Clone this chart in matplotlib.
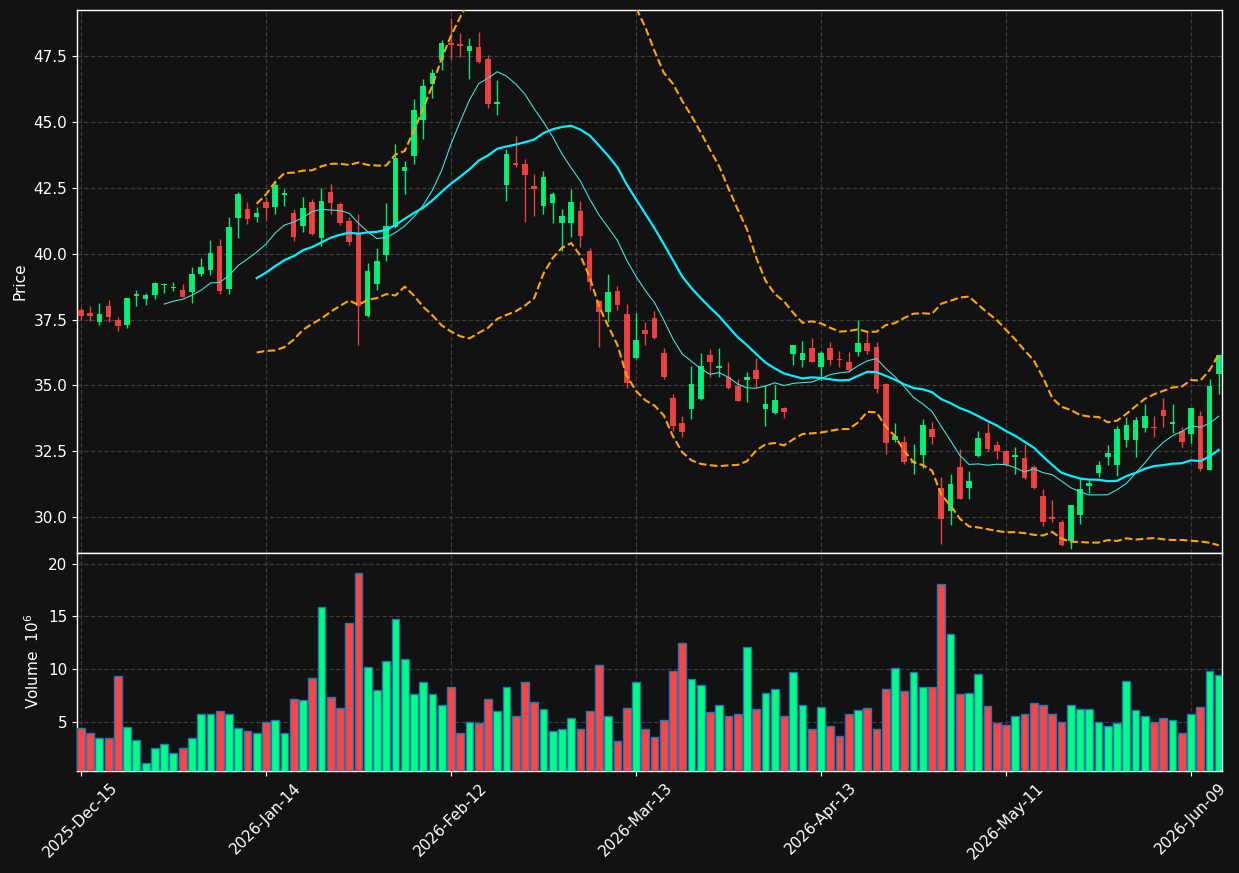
import numpy as np
import pandas as pd
import matplotlib
matplotlib.use("Agg")
import matplotlib.pyplot as plt

# ---------------- data ----------------
opens = [37.85, 37.77, 37.42, 38.03, 37.50, 37.31, 38.41, 38.30, 38.42, 38.80,
         38.71, 38.64, 38.54, 39.22, 39.40, 40.31, 38.65, 41.35, 41.68, 41.39,
         41.98, 41.78, 42.22, 41.54, 41.06, 41.95, 40.60, 42.33, 41.89, 41.25,
         40.76, 37.64, 38.85, 39.94, 41.02, 43.15, 43.71, 45.07, 46.44, 47.35,
         48.00, 47.96, 47.70, 47.84, 47.39, 45.69, 42.61, 43.44, 43.40, 42.56,
         41.82, 41.93, 41.17, 41.16, 41.61, 40.09, 38.19, 37.79, 38.57, 37.70,
         36.04, 37.09, 37.58, 36.25, 34.54, 33.56, 34.09, 34.47, 36.14, 35.67,
         35.33, 34.99, 35.20, 35.58, 34.09, 33.94, 34.16, 36.21, 35.95, 36.44,
         35.72, 36.42, 36.02, 35.90, 36.26, 36.63, 36.47, 35.06, 32.93, 32.87,
         32.06, 32.37, 33.36, 31.12, 30.22, 31.92, 31.09, 32.31, 33.21, 32.75,
         32.52, 32.28, 32.26, 31.89, 30.81, 30.00, 29.82, 29.11, 30.09, 31.20,
         31.69, 32.30, 31.98, 32.93, 32.93, 33.38, 33.42, 34.07, 33.55, 33.28,
         33.16, 33.86, 31.80, 35.45]
highs = [37.94, 38.02, 38.14, 38.26, 37.61, 38.33, 38.64, 38.50, 38.94, 38.90,
         38.94, 38.85, 39.50, 39.84, 40.53, 40.56, 41.41, 42.36, 41.97, 41.77,
         42.17, 42.77, 42.47, 41.71, 42.16, 42.09, 42.50, 42.63, 41.97, 41.40,
         41.52, 39.66, 40.22, 41.94, 44.15, 43.51, 45.87, 46.64, 47.01, 48.11,
         48.95, 48.36, 48.17, 48.40, 47.54, 46.61, 43.97, 44.47, 43.61, 43.01,
         43.13, 42.35, 41.71, 42.44, 42.02, 40.22, 38.26, 39.25, 38.76, 38.08,
         37.75, 37.40, 37.84, 36.43, 34.66, 33.86, 35.75, 36.24, 36.38, 36.43,
         35.91, 35.25, 35.51, 36.06, 35.00, 35.01, 34.17, 36.53, 36.67, 36.79,
         36.29, 36.65, 36.32, 36.28, 37.49, 37.02, 36.65, 35.08, 33.58, 33.08,
         32.78, 33.73, 33.61, 31.54, 31.65, 32.59, 31.75, 33.27, 33.60, 32.90,
         32.54, 32.65, 32.78, 31.98, 31.06, 30.64, 29.91, 30.47, 31.48, 31.43,
         32.13, 32.74, 33.47, 33.81, 33.81, 34.29, 33.86, 34.53, 34.29, 33.43,
         34.16, 34.03, 35.23, 36.21]
lows = [37.50, 37.45, 37.30, 37.40, 37.06, 37.18, 38.01, 38.06, 38.27, 38.50,
        38.60, 38.35, 38.12, 39.17, 39.21, 38.47, 38.47, 40.60, 41.12, 41.21,
        41.28, 41.52, 41.83, 40.49, 40.83, 40.70, 40.30, 41.52, 41.09, 40.32,
        36.52, 37.60, 38.61, 39.73, 40.98, 42.25, 43.42, 44.37, 45.93, 46.99,
        47.41, 47.47, 46.65, 47.25, 45.55, 45.25, 42.02, 43.30, 41.22, 41.45,
        41.52, 41.18, 40.09, 40.64, 40.26, 38.64, 36.46, 37.41, 37.88, 34.90,
        36.00, 36.55, 36.78, 35.25, 33.26, 33.04, 33.73, 34.45, 35.34, 35.34,
        34.85, 34.40, 34.39, 34.92, 33.48, 33.92, 33.77, 35.78, 35.70, 35.90,
        35.21, 35.78, 35.69, 35.50, 36.13, 36.20, 34.71, 32.40, 32.84, 32.02,
        31.64, 31.87, 32.78, 28.98, 29.71, 30.68, 30.69, 32.28, 32.50, 32.22,
        31.95, 31.64, 31.44, 31.06, 29.67, 29.83, 28.91, 28.80, 29.73, 30.93,
        31.54, 31.99, 31.58, 32.68, 32.30, 33.22, 33.05, 33.41, 33.18, 32.65,
        32.80, 31.77, 31.78, 34.66]
closes = [37.63, 37.63, 37.73, 37.61, 37.27, 38.33, 38.49, 38.42, 38.90, 38.87,
          38.75, 38.37, 39.25, 39.51, 40.01, 38.58, 41.03, 42.28, 41.31, 41.53,
          41.75, 42.60, 42.30, 40.64, 41.75, 40.76, 41.99, 41.93, 41.17, 40.45,
          38.02, 39.33, 39.71, 41.04, 43.64, 43.28, 45.45, 46.36, 46.87, 47.99,
          47.93, 47.89, 47.88, 47.27, 45.69, 45.77, 43.78, 43.35, 42.99, 42.46,
          42.91, 42.26, 41.42, 41.95, 40.68, 38.93, 37.79, 38.54, 38.04, 35.09,
          36.71, 36.95, 36.80, 35.34, 33.45, 33.23, 35.04, 35.73, 35.91, 35.73,
          34.90, 34.43, 35.32, 35.24, 34.28, 34.44, 34.01, 36.52, 36.25, 35.91,
          36.23, 35.95, 35.96, 35.60, 36.60, 36.32, 34.88, 32.80, 33.09, 32.11,
          32.15, 33.51, 33.06, 29.94, 31.27, 30.70, 31.39, 33.02, 32.58, 32.50,
          31.97, 32.37, 31.47, 31.12, 29.80, 29.94, 28.96, 30.47, 31.06, 31.30,
          31.98, 32.44, 33.35, 33.50, 33.69, 33.84, 33.40, 33.84, 33.61, 32.87,
          34.14, 31.84, 34.97, 36.15]
volumes = [4.43, 3.95, 3.47, 3.47, 9.30, 4.52, 3.28, 1.08, 2.52, 2.90,
           2.04, 2.52, 3.47, 5.67, 5.76, 5.96, 5.76, 4.43, 4.14, 3.95,
           5.00, 5.10, 3.95, 7.10, 7.01, 9.11, 15.89, 7.29, 6.24, 14.36,
           19.14, 10.16, 7.96, 10.73, 14.75, 10.99, 7.58, 8.73, 7.58, 6.53,
           8.25, 3.95, 5.00, 4.90, 7.10, 5.96, 8.25, 5.57, 8.73, 6.82,
           6.15, 4.14, 4.24, 5.29, 4.33, 5.96, 10.35, 5.48, 3.18, 6.24,
           8.73, 4.24, 3.57, 5.19, 9.78, 12.45, 9.01, 8.44, 5.86, 6.53,
           5.57, 5.76, 12.07, 6.15, 7.68, 8.06, 5.48, 9.68, 6.53, 4.24,
           6.34, 4.62, 3.66, 5.67, 6.05, 6.24, 4.24, 8.06, 10.06, 7.87,
           9.68, 8.25, 8.25, 18.09, 13.31, 7.58, 7.68, 9.49, 6.43, 4.90,
           4.71, 5.48, 5.76, 6.72, 6.53, 5.76, 5.00, 6.53, 6.15, 6.15,
           5.00, 4.62, 4.90, 8.82, 6.05, 5.57, 5.00, 5.38, 5.19, 3.95,
           5.67, 6.34, 9.78, 9.39]
tick_labels = ["2025-Dec-15", "2026-Jan-14", "2026-Feb-12", "2026-Mar-13",
               "2026-Apr-13", "2026-May-11", "2026-Jun-09"]

# ---------------- style ----------------
BG = "#121212"
UP = "#00ff80"
DOWN = "#ff4444"
GRID = "#3c3c3c"

o = np.array(opens); h = np.array(highs); l = np.array(lows); c = np.array(closes)
v = np.array(volumes)
n = len(c)
x = np.arange(n)
up = c >= o
cols = np.where(up, UP, DOWN)

cs = pd.Series(c)
ma10 = cs.rolling(10).mean()
ma20 = cs.rolling(20).mean()
sd20 = cs.rolling(20).std(ddof=0)
bb_up = ma20 + 2 * sd20
bb_lo = ma20 - 2 * sd20

fig = plt.figure(figsize=(12.39, 8.73), dpi=100, facecolor=BG)
axp = fig.add_axes([0.0621, 0.3671, 0.9242, 0.6214])
axv = fig.add_axes([0.0621, 0.1174, 0.9242, 0.2497], sharex=axp)

for ax in (axp, axv):
    ax.set_facecolor(BG)
    for s in ax.spines.values():
        s.set_color("white")
        s.set_linewidth(1.0)
    ax.tick_params(colors="white", labelsize=11)
    ax.grid(True, color=GRID, linestyle="--", linewidth=0.9)
    ax.set_axisbelow(True)

# candles
body_bottom = np.minimum(o, c)
body_h = np.maximum(np.abs(c - o), 0.04)
axp.vlines(x, l, h, colors=cols, linewidth=1.0, alpha=0.9, zorder=2)
axp.bar(x, body_h, bottom=body_bottom, width=0.6, color=cols, alpha=0.9,
        linewidth=0, zorder=3)

# moving averages and bands
axp.plot(x, ma20, color="#00f0ff", linewidth=1.6, zorder=4)
axp.plot(x, ma10, color="#40e0d0", linewidth=0.8, zorder=4)
axp.plot(x, bb_up, color="#ffa500", linewidth=1.5, linestyle="--", zorder=4)
axp.plot(x, bb_lo, color="#ffa500", linewidth=1.5, linestyle="--", zorder=4)

axp.set_ylim(28.66, 49.25)
axp.set_yticks([30.0, 32.5, 35.0, 37.5, 40.0, 42.5, 45.0, 47.5])
axp.set_ylabel("Price", color="white", fontsize=11)
plt.setp(axp.get_xticklabels(), visible=False)
axp.tick_params(axis="x", length=0)

# volume
axv.bar(x, v, width=0.85, color=cols, edgecolor="#1f77b4", linewidth=1.0, zorder=3)
axv.set_ylim(0.34, 21.07)
axv.set_yticks([5, 10, 15, 20])
axv.set_ylabel("Volume  $10^{6}$", color="white", fontsize=11)

tick_pos = np.arange(0, n, 20)[:len(tick_labels)]
axv.set_xticks(tick_pos)
axv.set_xticklabels(tick_labels, rotation=45, ha="center",
                    color="white", fontsize=11)
axv.set_xlim(-0.43, 123.35)

fig.savefig("out.png", dpi=100, facecolor=BG)
